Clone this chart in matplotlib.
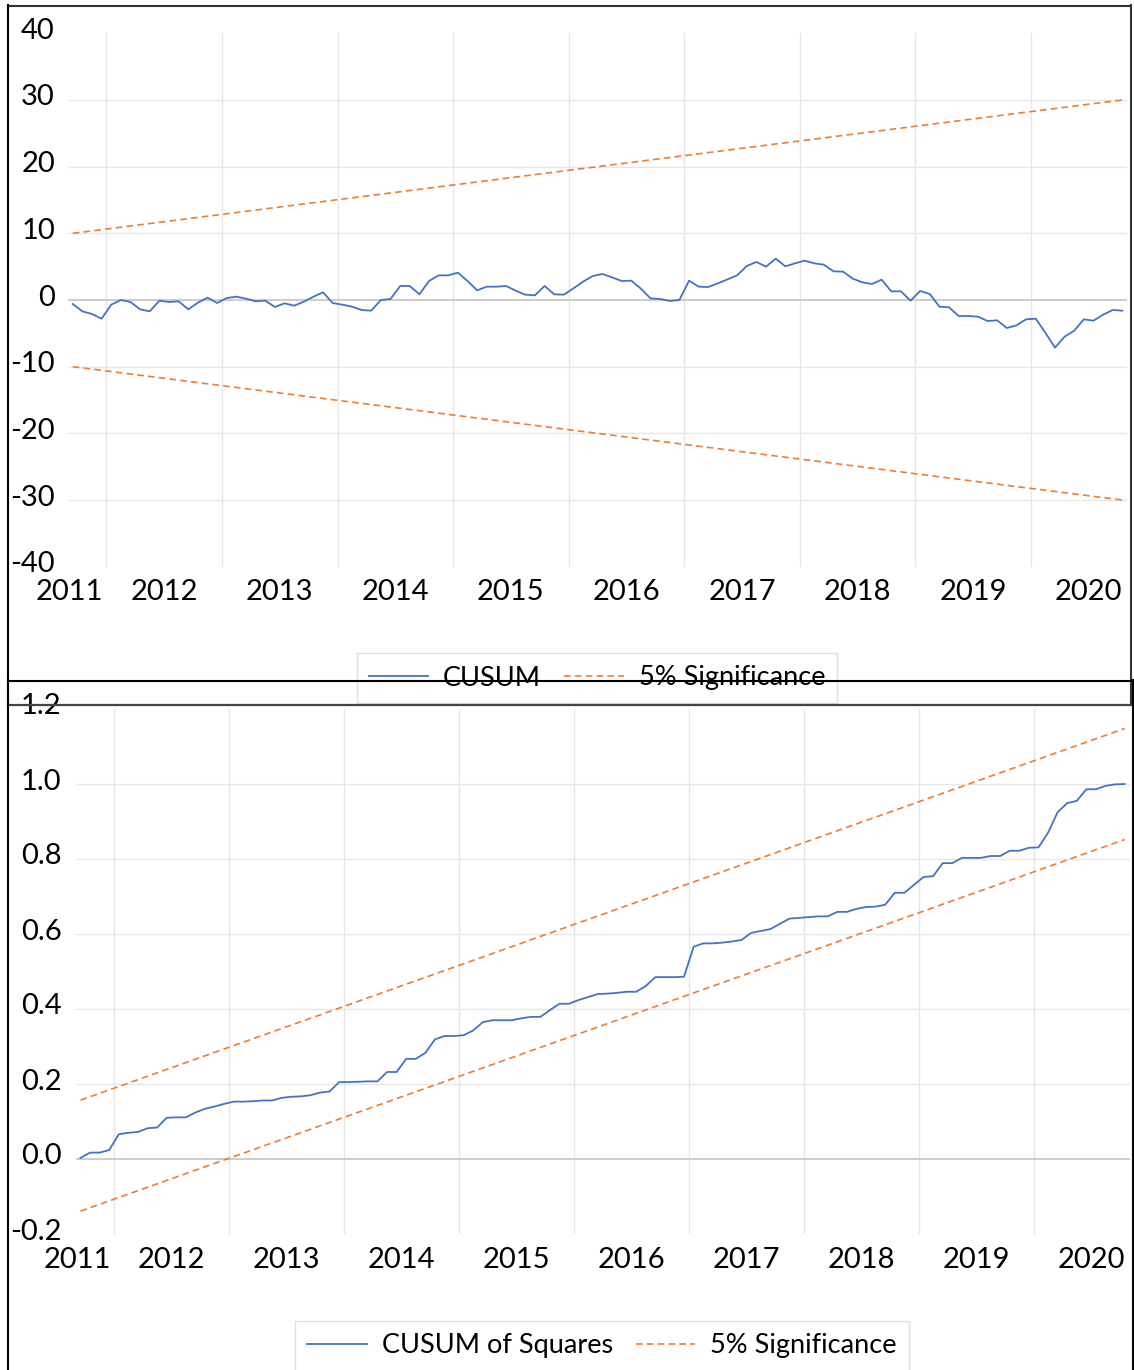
import matplotlib
matplotlib.use("Agg")
import matplotlib.pyplot as plt
from matplotlib.lines import Line2D
from matplotlib.transforms import ScaledTranslation

# ---------------- data ----------------
years = ["2011", "2012", "2013", "2014", "2015", "2016", "2017", "2018", "2019", "2020"]

cusum = [-0.6, -1.7, -2.1, -2.8, -0.7, 0.0, -0.3, -1.4, -1.7, -0.1,
         -0.3, -0.2, -1.4, -0.4, 0.35, -0.45, 0.3, 0.5, 0.2, -0.2,
         -0.1, -1.05, -0.5, -0.85, -0.25, 0.5, 1.15, -0.45, -0.7, -1.0,
         -1.5, -1.6, 0.0, 0.15, 2.1, 2.1, 0.85, 2.85, 3.7, 3.7,
         4.1, 2.85, 1.45, 2.0, 2.0, 2.1, 1.4, 0.8, 0.7, 2.1,
         0.85, 0.8, 1.75, 2.75, 3.6, 3.9, 3.4, 2.85, 2.9, 1.7,
         0.25, 0.15, -0.15, 0.0, 2.9, 2.0, 1.95, 2.5, 3.1, 3.7,
         5.1, 5.7, 5.0, 6.2, 5.05, 5.5, 5.9, 5.5, 5.3, 4.3,
         4.25, 3.2, 2.65, 2.4, 3.05, 1.3, 1.3, -0.1, 1.35, 0.9,
         -1.0, -1.1, -2.4, -2.4, -2.5, -3.15, -3.05, -4.2, -3.8, -2.9,
         -2.8, -4.9, -7.15, -5.5, -4.6, -2.9, -3.1, -2.2, -1.5, -1.6]

cusum_sq = [0.003, 0.017, 0.017, 0.024, 0.066, 0.070, 0.072, 0.082, 0.084, 0.110,
            0.111, 0.111, 0.124, 0.134, 0.140, 0.147, 0.153, 0.153, 0.154, 0.156,
            0.156, 0.163, 0.166, 0.167, 0.170, 0.177, 0.180, 0.205, 0.205, 0.206,
            0.207, 0.207, 0.232, 0.232, 0.267, 0.267, 0.283, 0.319, 0.328, 0.328,
            0.330, 0.343, 0.365, 0.370, 0.370, 0.370, 0.375, 0.379, 0.379, 0.397,
            0.414, 0.414, 0.424, 0.432, 0.440, 0.441, 0.443, 0.446, 0.446, 0.461,
            0.485, 0.485, 0.485, 0.486, 0.566, 0.575, 0.575, 0.577, 0.580, 0.584,
            0.603, 0.608, 0.613, 0.627, 0.641, 0.643, 0.645, 0.647, 0.647, 0.659,
            0.659, 0.667, 0.672, 0.673, 0.678, 0.710, 0.710, 0.731, 0.752, 0.754,
            0.789, 0.789, 0.803, 0.803, 0.803, 0.808, 0.808, 0.822, 0.822, 0.830,
            0.831, 0.870, 0.925, 0.949, 0.955, 0.986, 0.986, 0.995, 0.999, 1.000]

# 5% significance bounds (straight lines: start and end values)
cusum_upper = [10, 30]
cusum_lower = [-10, -30]
cusumsq_upper = [0.157, 1.148]
cusumsq_lower = [-0.139, 0.852]

top_yticks = [40, 30, 20, 10, 0, -10, -20, -30, -40]
bot_yticks = [1.2, 1.0, 0.8, 0.6, 0.4, 0.2, 0.0, -0.2]
bot_ylabels = ["1.2", "1.0", "0.8", "0.6", "0.4", "0.2", "0.0", "-0.2"]

# ---------------- style ----------------
BLUE = "#4472C4"
ORANGE = "#ED7D31"
GRID = "#E6E6E6"
ZERO = "#C8C8C8"
FONT = "Lato"
FS = 21
LFS = 19.5

W, H = 1134, 1370
fig = plt.figure(figsize=(W / 100, H / 100), dpi=100)
fig.patch.set_facecolor("white")


def px_axes(x0, y0, x1, y1):
    return fig.add_axes([x0 / W, 1 - y1 / H, (x1 - x0) / W, (y1 - y0) / H])


n = len(cusum)
idx = list(range(n))
ends = [0, n - 1]
year_pos = [-0.3] + [9.5 + 12 * k for k in range(len(years) - 1)]
vgrid = [3.5 + 12 * k for k in range(9)]


def setup(ax, ylim, yticks, ylabels, lab_dx, xlab_dy):
    ax.set_xlim(-0.5, n - 0.5)
    ax.set_ylim(*ylim)
    ax.set_facecolor("none")
    for s in ax.spines.values():
        s.set_visible(False)
    ax.set_xticks([])
    ax.set_yticks([])
    for v in vgrid:
        ax.axvline(v, color=GRID, lw=1.0, zorder=0)
    for t in yticks[1:-1]:
        if t == 0:
            ax.axhline(0, color=ZERO, lw=1.3, zorder=1)
        else:
            ax.axhline(t, color=GRID, lw=1.0, zorder=0)
    tr = ax.get_yaxis_transform() + ScaledTranslation(-lab_dx / 100, 2.5 / 100, fig.dpi_scale_trans)
    for t, lab in zip(yticks, ylabels):
        ax.text(0, t, lab, transform=tr, ha="right", va="center",
                fontsize=FS, family=FONT, color="black")
    trx = ax.get_xaxis_transform() + ScaledTranslation(0, -xlab_dy / 100, fig.dpi_scale_trans)
    for p, lab in zip(year_pos, years):
        ax.text(p, 0, lab, transform=trx, ha="center", va="center",
                fontsize=FS, family=FONT, color="black")


def make_legend(ax, handles, labels, cx, cy):
    leg = ax.legend(handles, labels, loc="center",
                    bbox_to_anchor=(cx / W, 1 - cy / H), bbox_transform=fig.transFigure,
                    ncol=2, prop={"family": FONT, "size": LFS}, frameon=True,
                    handlelength=2.2, handletextpad=0.55, columnspacing=0.85,
                    borderpad=0.45, fancybox=False)
    leg.get_frame().set_edgecolor("#D9D9D9")
    leg.get_frame().set_linewidth(1.0)
    return leg


# ---------------- top chart: CUSUM ----------------
ax1 = px_axes(67.9, 33.3, 1127.2, 566.7)
setup(ax1, (-40, 40), top_yticks, [str(v) for v in top_yticks], 13, 25)
l1, = ax1.plot(idx, cusum, color=BLUE, lw=1.3, zorder=3)
l2, = ax1.plot(ends, cusum_upper, color=ORANGE, lw=1.2, dashes=(4, 2.5), zorder=3)
ax1.plot(ends, cusum_lower, color=ORANGE, lw=1.2, dashes=(4, 2.5), zorder=3)
make_legend(ax1, [l1, l2], ["CUSUM", "5% Significance"], 597, 678)

# ---------------- bottom chart: CUSUM of squares ----------------
ax2 = px_axes(75.7, 709, 1129.5, 1234)
setup(ax2, (-0.2, 1.2), bot_yticks, bot_ylabels, 14, 26)
m1, = ax2.plot(idx, cusum_sq, color=BLUE, lw=1.3, zorder=3)
m2, = ax2.plot(ends, cusumsq_upper, color=ORANGE, lw=1.2, dashes=(4, 2.5), zorder=3)
ax2.plot(ends, cusumsq_lower, color=ORANGE, lw=1.2, dashes=(4, 2.5), zorder=3)
make_legend(ax2, [m1, m2], ["CUSUM of Squares", "5% Significance"], 602, 1346)


# ---------------- frames (overlapping chart borders) ----------------
def fline(xs, ys, color="black", lw=1.5):
    fig.add_artist(Line2D([x / W for x in xs], [1 - y / H for y in ys],
                          color=color, lw=lw, zorder=20, transform=fig.transFigure))


# top chart frame
fline([8, 1131], [5.5, 5.5], color="#333333")
fline([8, 8], [5, 704], color="black")
fline([1131, 1131], [5, 704], color="#333333")
fline([8, 1131], [704.5, 704.5], color="#444444", lw=1.6)
# bottom chart frame
fline([8, 1133], [680.5, 680.5], color="black")
fline([8, 8], [680, 1370], color="black")
fline([1132.5, 1132.5], [680, 1370], color="black")

fig.savefig("out.png", dpi=100, facecolor="white")
